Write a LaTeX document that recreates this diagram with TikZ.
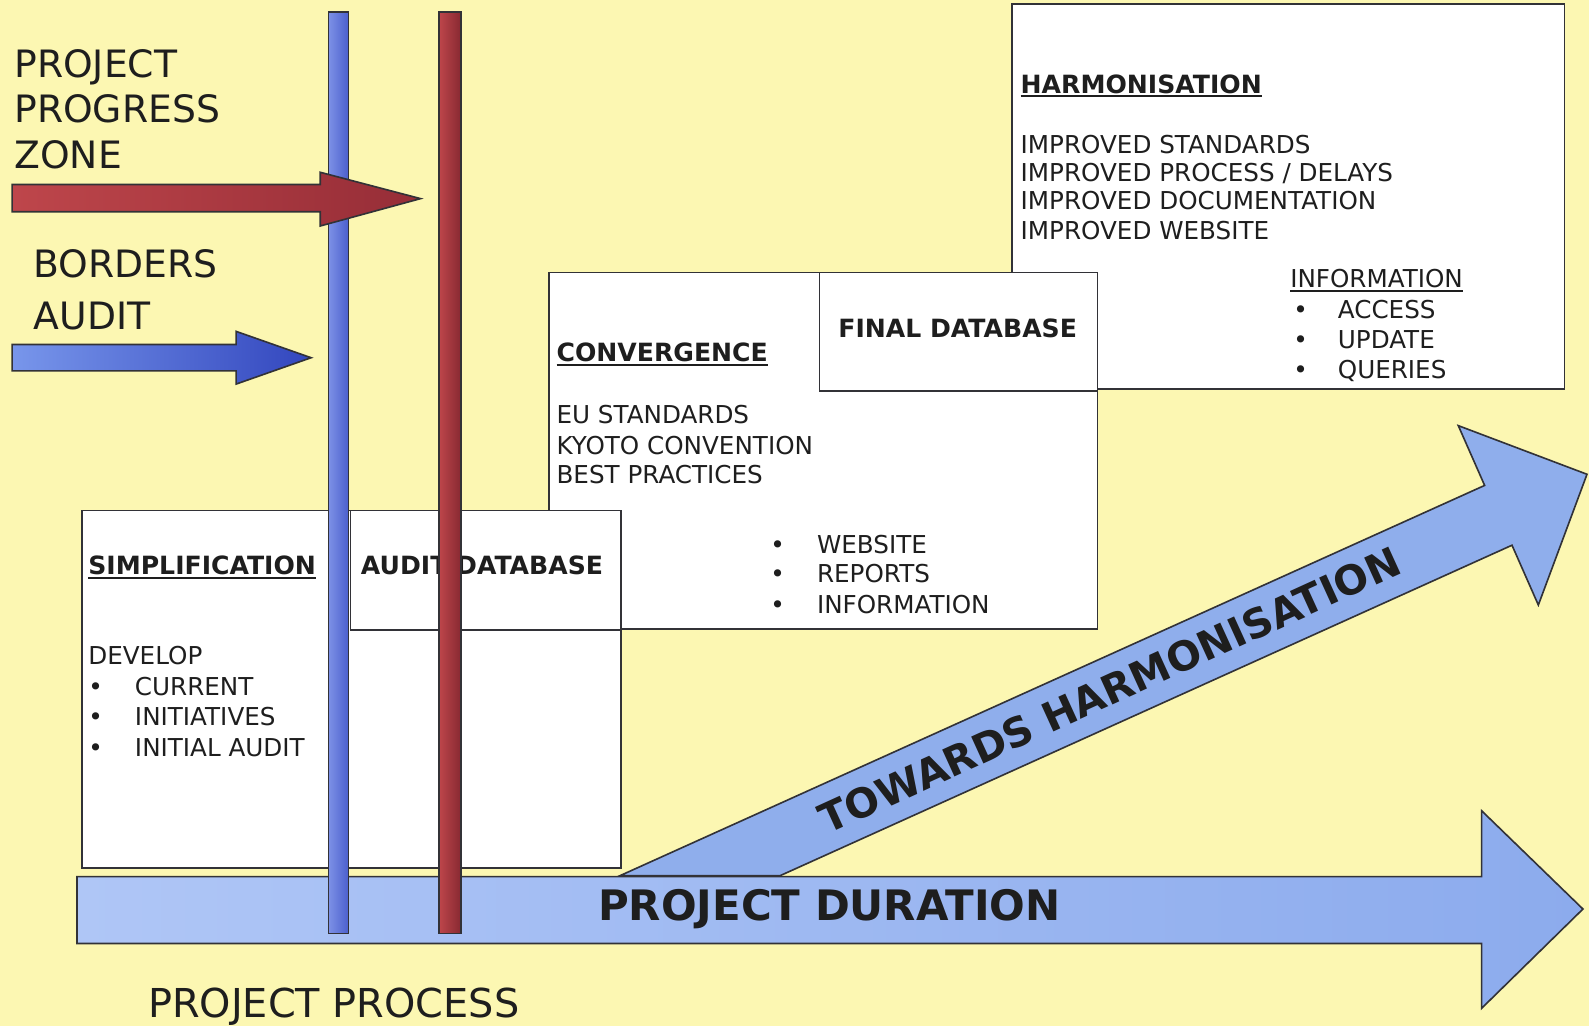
\documentclass[tikz,border=0pt]{standalone}
\usepackage{fontspec}
\setmainfont{DejaVu Sans}
\definecolor{bgy}{RGB}{252,247,178}
\definecolor{ink}{RGB}{30,30,30}
\definecolor{edge}{RGB}{50,50,55}
\definecolor{bluelt}{RGB}{125,145,230}
\definecolor{bluedk}{RGB}{75,95,205}
\definecolor{redlt}{RGB}{190,70,75}
\definecolor{reddk}{RGB}{150,45,55}
\definecolor{arrlt}{RGB}{120,150,235}
\definecolor{arrdk}{RGB}{50,70,190}
\definecolor{durlt}{RGB}{175,198,246}
\definecolor{durdk}{RGB}{140,171,237}
\definecolor{diag}{RGB}{143,174,236}
\newcommand{\myul}[1]{\setbox0\hbox{#1}\rlap{\color{ink}\rule[-4pt]{\wd0}{2pt}}\box0}
\begin{document}
\begin{tikzpicture}[x=1pt,y=-1pt,
  box/.style={draw=edge, line width=1.6pt, fill=white, inner sep=0pt, anchor=north west},
  body/.style={anchor=base west, inner sep=0pt, text=ink, font=\fontsize{24.3}{28}\selectfont},
  headtxt/.style={anchor=base west, inner sep=0pt, text=ink, font=\fontsize{24.8}{28}\bfseries},
  big/.style={anchor=base west, inner sep=0pt, text=ink, font=\fontsize{37.2}{40}\selectfont},
  outl/.style={draw=edge, line width=1.6pt}]
\useasboundingbox (0,0) rectangle (1568,1012.4);
\fill[bgy] (0,0) rectangle (1568,1012.4);

% Harmonisation box
\node[box, minimum width=545, minimum height=380] (harm) at (998,3) {};
\node[headtxt] (hharm) at (1007,92) {\myul{HARMONISATION}};
\node[body] (h1) at (1007,151) {IMPROVED STANDARDS};
\node[body] (h2) at (1007,179) {IMPROVED PROCESS / DELAYS};
\node[body] (h3) at (1007,207) {IMPROVED DOCUMENTATION};
\node[body] (h4) at (1007,236) {IMPROVED WEBSITE};
\node[body] (hinfo) at (1273,284) {\myul{INFORMATION}};
\node[body] (hb1) at (1276,314) {•};
\node[body] (hb2) at (1276,344) {•};
\node[body] (hb3) at (1276,373) {•};
\node[body] (hi1) at (1320,314) {ACCESS};
\node[body] (hi2) at (1320,344) {UPDATE};
\node[body] (hi3) at (1320,373) {QUERIES};

% Convergence box
\node[box, minimum width=541, minimum height=352] (conv) at (541,268) {};
\node[box, minimum width=274, minimum height=117] (finaldb) at (808,268) {};
\node[headtxt, anchor=base] (tfinal) at (945,333) {FINAL DATABASE};
\node[headtxt] (hconv) at (549,357) {\myul{CONVERGENCE}};
\node[body] (c1) at (549,418) {EU STANDARDS};
\node[body] (c2) at (549,448) {KYOTO CONVENTION};
\node[body] (c3) at (549,477) {BEST PRACTICES};
\node[body] (cb1) at (760,546) {•};
\node[body] (cb2) at (760,575) {•};
\node[body] (cb3) at (760,605) {•};
\node[body] (ci1) at (806,546) {WEBSITE};
\node[body] (ci2) at (806,575) {REPORTS};
\node[body] (ci3) at (806,605) {INFORMATION};

% Simplification box
\node[box, minimum width=532, minimum height=353] (simp) at (80,503) {};
\node[box, minimum width=267, minimum height=118] (auditdb) at (345,503) {};
\node[headtxt] (hsimp) at (87,567) {\myul{SIMPLIFICATION}};
\node[headtxt] (taudit) at (356,567) {AUDIT DATABASE};
\node[body] (s0) at (87,656) {DEVELOP};
\node[body] (sb1) at (87,686) {•};
\node[body] (sb2) at (87,716) {•};
\node[body] (sb3) at (87,746) {•};
\node[body] (s1) at (133,686) {CURRENT};
\node[body] (s2) at (133,716) {INITIATIVES};
\node[body] (s3) at (133,746) {INITIAL AUDIT};

% Project duration arrow
\path[outl, left color=durlt, right color=durdk]
  (76,865) -- (1462,865) -- (1462,800) -- (1562,897) -- (1462,995) -- (1462,931) -- (76,931) -- cycle;
% Towards harmonisation arrow
\path[outl, fill=diag]
  (612,864) -- (1465,479) -- (1439,420) -- (1566,468) -- (1518,597) -- (1492,538) -- (770,864) -- cycle;
\node[anchor=base west, inner sep=0pt, text=ink, font=\fontsize{41.4}{44}\bfseries] (tdur) at (590,908) {PROJECT DURATION};
\node[inner sep=0pt, text=ink, font=\fontsize{40}{44}\bfseries, rotate=24.5] (ttow) at (1095,681) {TOWARDS HARMONISATION};

% Vertical bars
\path[outl, left color=bluelt, right color=bluedk] (324,12) rectangle (344,921);
\path[outl, left color=redlt, right color=reddk!90!black] (433,12) rectangle (455,921);

% Red horizontal arrow
\path[outl, left color=redlt, right color=reddk]
  (12,182) -- (316,182) -- (316,170) -- (415,196) -- (316,223) -- (316,209) -- (12,209) -- cycle;
% Blue horizontal arrow
\path[outl, left color=arrlt, right color=arrdk]
  (12,340) -- (233,340) -- (233,327) -- (307,353) -- (233,379) -- (233,366) -- (12,366) -- cycle;

% Left texts
\node[big] (l1) at (14,76) {PROJECT};
\node[big] (l2) at (14,120.5) {PROGRESS};
\node[big] (l3) at (14,166) {ZONE};
\node[big] (l4) at (33,273.5) {BORDERS};
\node[big] (l5) at (33,325.5) {AUDIT};
\node[anchor=base west, inner sep=0pt, text=ink, font=\fontsize{39.3}{42}\selectfont] (tproc) at (146,1004) {PROJECT PROCESS};
\end{tikzpicture}
\end{document}
